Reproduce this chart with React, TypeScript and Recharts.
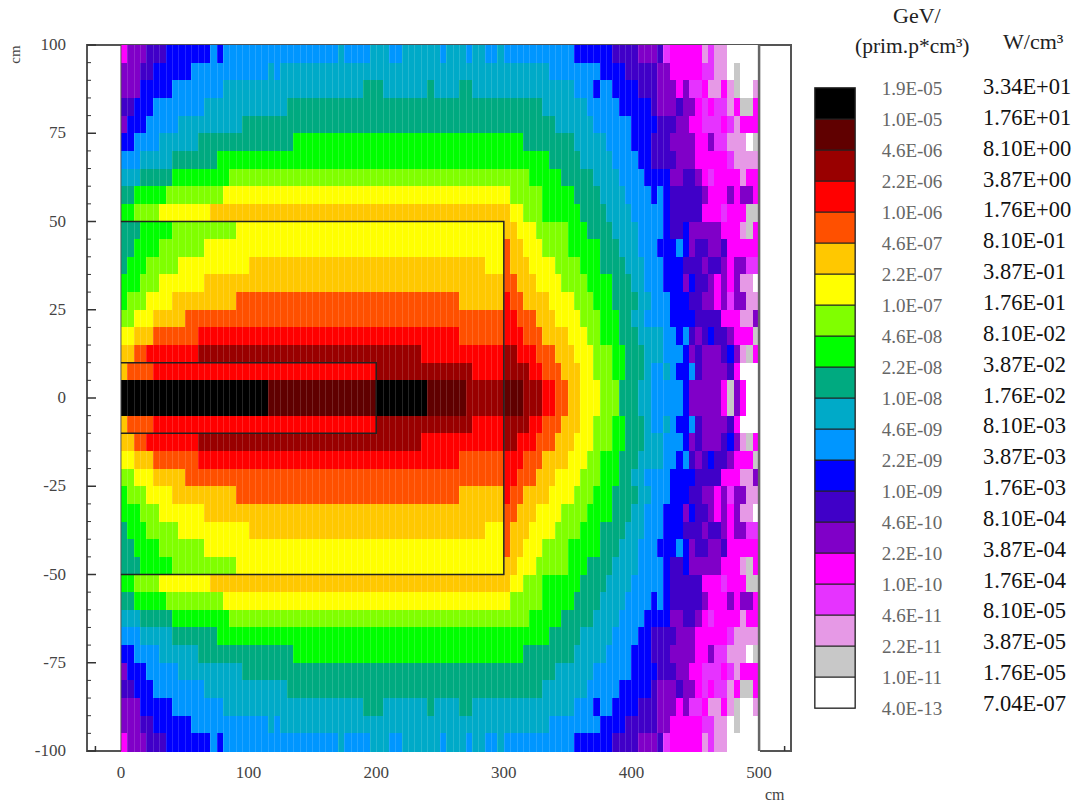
import React from "react"
import {
  ScatterChart, Scatter, XAxis, YAxis, ReferenceArea,
  BarChart, Bar,
} from "recharts"

// colour key, top of the scale first
const LEVEL_CODES = ["K", "D", "R", "r", "o", "a", "y", "l", "g", "t", "c", "s", "b", "i", "p", "m", "n", "k", "e", "w"]
const LEVEL_COLORS = [
  "#000000", "#600000", "#990000", "#ff0000", "#ff5000", "#ffc800", "#ffff00", "#80ff00", "#00ff00", "#00aa80",
  "#00aac8", "#0096ff", "#0000ff", "#4000c8", "#8000c8", "#ff00ff", "#e633ff", "#e699e6", "#c8c8c8", "#ffffff",
]
const GEV_LABELS = [
  "1.9E-05", "1.0E-05", "4.6E-06", "2.2E-06", "1.0E-06", "4.6E-07", "2.2E-07", "1.0E-07", "4.6E-08", "2.2E-08", "1.0E-08",
  "4.6E-09", "2.2E-09", "1.0E-09", "4.6E-10", "2.2E-10", "1.0E-10", "4.6E-11", "2.2E-11", "1.0E-11", "4.0E-13",
]
const WATT_LABELS = [
  "3.34E+01", "1.76E+01", "8.10E+00", "3.87E+00", "1.76E+00", "8.10E-01", "3.87E-01", "1.76E-01", "8.10E-02", "3.87E-02", "1.76E-02",
  "8.10E-03", "3.87E-03", "1.76E-03", "8.10E-04", "3.87E-04", "1.76E-04", "8.10E-05", "3.87E-05", "1.76E-05", "7.04E-07",
]

// upper half of the map, y = 100 downwards. each token is level code + column where the run ends (1 column = 5 cm)
const UPPER_ROWS = [
  "m1 p4 i7 b14 s15 b16 s34 c35 s39 c42 s44 c50 s51 c54 s55 c57 s59 c60 s71 b77 i81 p84 i85 n86 m91 k92 n93 k95 w100",
  "p3 i5 b11 s23 c24 s25 c67 s75 b79 i84 p86 m91 n93 k95 w96 e97 w100",
  "p3 b8 s16 c38 t41 c48 t49 c53 t55 c71 s74 b75 s77 b81 i84 p87 m88 p89 n91 m92 k94 m95 k96 e97 w99 k100",
  "i2 b5 s13 c26 t66 c73 s78 b83 i84 p87 i88 p90 m91 n92 m93 n95 k96 m97 e99 m100",
  "p1 b4 s9 c19 t68 c74 s80 b84 i87 p89 m91 n94 m95 n96 k97 m100",
  "b2 s6 c12 t27 g63 t71 c76 s80 b83 i86 p90 m92 p93 n95 k98 w99 e100",
  "s3 c8 t15 g67 t72 c77 s81 b83 i87 p90 m95 n96 k100",
  "c3 t8 g17 l64 g69 t74 c78 s82 b86 p88 i90 p91 m92 n93 m97 k98 m100",
  "t2 g7 l16 y61 l66 g71 t75 c79 s83 b84 s85 b86 i91 p92 m95 p96 m97 p99 m100",
  "g2 l6 y14 a61 y63 l66 g72 t76 c80 s85 b86 i91 m94 n95 m98 e100",
  "t3 g8 l18 y60 a62 y65 l70 g73 t77 c81 s85 b86 i88 b89 p94 m97 k98 e99 m100",
  "t2 g6 l13 y60 o61 a63 y66 l70 g75 t78 c81 s84 b87 s88 b89 p90 i92 p94 i95 m100",
  "t1 g4 l9 y20 a57 y60 o61 a64 y68 l72 g75 t79 c82 s85 b88 i91 p92 i94 p95 m96 p98 n100",
  "g3 l6 y13 a60 o62 a65 y69 l73 g77 t80 c82 s85 b88 p89 b90 i92 p93 m94 p95 m96 p97 k99 w100",
  "g1 l4 y8 a18 o53 a60 r61 o63 a67 y71 l74 g77 t81 c83 s86 b89 i91 p93 m94 p95 n96 p98 k100",
  "l2 y5 a10 o60 r62 o65 a68 y72 l75 g78 t80 c82 s86 b90 i94 m97 k99 p100",
  "y2 a5 o12 r53 o60 r63 o66 a70 y73 l75 g78 t81 c85 s87 b88 s89 i90 p91 i92 b93 i95 p96 m99 e100",
  "a2 o4 r12 R47 r60 R62 r65 o68 a71 y74 l77 g79 t82 c85 s88 b89 p90 i91 p94 i95 b96 p97 k98 e99 m100",
  "a1 o5 r40 R55 r60 R64 r66 o69 a72 y74 l77 g79 t82 c83 s85 c86 s87 b89 s90 i91 p95 i96 m97 w100",
  "K23 D40 K48 D54 R60 D63 R66 r68 o70 a72 y75 l78 t81 c83 s88 b89 p94 m95 e96 p97 m98 w100",
]

const X_TICKS = [-20, 0, 100, 200, 300, 400, 500, 520]
const Y_TICKS = [
  -100, -95, -90, -85, -80, -75, -70, -65, -60, -55, -50, -45, -40, -35, -30, -25, -20, -15, -10, -5, 0,
  5, 10, 15, 20, 25, 30, 35, 40, 45, 50, 55, 60, 65, 70, 75, 80, 85, 90, 95, 100,
]

// target and core outlines, plus the two histogram edges
const OUTER_OUTLINE = [{ x: 0, y: 50 }, { x: 300, y: 50 }, { x: 300, y: -50 }, { x: 0, y: -50 }]
const INNER_OUTLINE = [{ x: 0, y: 10 }, { x: 200, y: 10 }, { x: 200, y: -10 }, { x: 0, y: -10 }]
const LEFT_EDGE = [{ x: 0, y: 100 }, { x: 0, y: -100 }]
const RIGHT_EDGE = [{ x: 500, y: 100 }, { x: 500, y: -100 }]

const X_DOMAIN = [-26.6, 525]
const BIN_CM = 5
const LEFT = 87
const TOP = 45
const PLOT_W = 704
const PLOT_H = 706
const CELL_W = (PLOT_W / (X_DOMAIN[1] - X_DOMAIN[0])) * BIN_CM
const CELL_H = (PLOT_H / 200) * BIN_CM

const FONT = "'Liberation Serif', serif"
const TICK_COLOR = "#444"

// the map is mirror symmetric about y = 0
const allRows = [...UPPER_ROWS, ...[...UPPER_ROWS].reverse()]
const cells: { x: number; y: number; col: number; fill: string }[] = []
allRows.forEach((row, r) => {
  let col = 0
  row.split(" ").forEach((token) => {
    const end = Number(token.slice(1))
    const fill = LEVEL_COLORS[LEVEL_CODES.indexOf(token[0])]
    for (; col < end; col++) {
      cells.push({ x: (col + 0.5) * BIN_CM, y: 100 - (r + 0.5) * BIN_CM, col, fill })
    }
  })
})

function HeatCell(props: any) {
  const { cx, cy, payload } = props
  const left = cx - CELL_W / 2
  const top = cy - CELL_H / 2
  return (
    <g>
      <rect x={left} y={top} width={CELL_W + 0.5} height={CELL_H + 0.5} fill={payload.fill} shapeRendering="crispEdges" />
      {payload.col > 0 && payload.col < 86 && (
        <rect x={left} y={top} width={1} height={CELL_H + 0.5} fill="#fff" opacity={0.14} shapeRendering="crispEdges" />
      )}
    </g>
  )
}

const NoPoint = () => null

function XTick({ x, y, payload }: any) {
  if (payload.value === -20 || payload.value === 520) {
    return <line x1={x} x2={x} y1={y} y2={y - 5} stroke="#333" strokeWidth={1.5} />
  }
  return (
    <text x={x} y={y + 27} textAnchor="middle" fontFamily={FONT} fontSize={17} fill={TICK_COLOR}>
      {payload.value}
    </text>
  )
}

function YTick({ x, y, payload }: any) {
  const major = payload.value % 25 === 0
  return (
    <g>
      <line x1={x} x2={x + (major ? 9 : 4)} y1={y} y2={y} stroke="#333" strokeWidth={major ? 1.5 : 1} />
      {major && (
        <text x={x - 21} y={y + 5} textAnchor="end" fontFamily={FONT} fontSize={17} fill={TICK_COLOR}>
          {payload.value}
        </text>
      )}
    </g>
  )
}

// one tick of the colour scale carries both unit labels
function ScaleTick({ x, y, payload }: any) {
  const i = 20 - payload.value
  return (
    <g>
      <text x={x + 57} y={y + 7} textAnchor="middle" fontFamily={FONT} fontSize={19} fill="#666">
        {GEV_LABELS[i]}
      </text>
      <text x={x + 128} y={y + 6 - 0.15 * i} fontFamily={FONT} fontSize={22.5} fill="#111">
        {WATT_LABELS[i]}
      </text>
    </g>
  )
}

// stacked from the bottom, so white comes first
const scaleRow: Record<string, any> = { name: "scale" }
LEVEL_CODES.forEach((code) => {
  scaleRow[code] = 1
})
const scaleData = [scaleRow]
const scaleTicks = GEV_LABELS.map((_, i) => i)

const note = (left: number, top: number, size: number, color: string): React.CSSProperties => ({
  position: "absolute", left, top, fontFamily: FONT, fontSize: size, color, whiteSpace: "nowrap", lineHeight: 1,
})

export default function App() {
  return (
    <div style={{ position: "absolute", left: 0, top: 0, width: 1082, height: 808, background: "#fff", overflow: "hidden" }}>
      <div style={{ position: "absolute", left: 0, top: 0 }}>
        <ScatterChart
          width={1082}
          height={808}
          margin={{ top: TOP, left: LEFT - 1, right: 1082 - LEFT - PLOT_W, bottom: 808 - TOP - PLOT_H - 1 }}
        >
          <XAxis
            type="number"
            dataKey="x"
            domain={X_DOMAIN}
            ticks={X_TICKS}
            interval={0}
            allowDataOverflow
            height={1}
            tickSize={0}
            tickMargin={0}
            axisLine={false}
            tick={XTick}
          />
          <YAxis
            type="number"
            dataKey="y"
            domain={[-100, 100]}
            ticks={Y_TICKS}
            interval={0}
            width={1}
            tickSize={0}
            tickMargin={0}
            axisLine={false}
            tick={YTick}
          />
          <Scatter data={cells} isAnimationActive={false} shape={HeatCell} />
          <Scatter data={LEFT_EDGE} isAnimationActive={false} shape={NoPoint} line={{ stroke: "#555", strokeWidth: 1 }} />
          <Scatter data={RIGHT_EDGE} isAnimationActive={false} shape={NoPoint} line={{ stroke: "#666", strokeWidth: 2.5 }} />
          <Scatter data={OUTER_OUTLINE} isAnimationActive={false} shape={NoPoint} line={{ stroke: "#222", strokeWidth: 1.5 }} />
          <Scatter data={INNER_OUTLINE} isAnimationActive={false} shape={NoPoint} line={{ stroke: "#222", strokeWidth: 1.5 }} />
          <ReferenceArea x1={X_DOMAIN[0]} x2={X_DOMAIN[1]} y1={-100} y2={100} fill="none" stroke="#555" strokeWidth={2} fillOpacity={0} />
        </ScatterChart>
      </div>

      <div style={{ position: "absolute", left: 800, top: 58 }}>
        <BarChart
          width={282}
          height={670}
          data={scaleData}
          barCategoryGap={0}
          margin={{ top: 30, left: 15, right: 226, bottom: 20 }}
        >
          <XAxis dataKey="name" hide />
          <YAxis
            orientation="right"
            type="number"
            domain={[0, 20]}
            ticks={scaleTicks}
            interval={0}
            width={1}
            tickSize={0}
            tickMargin={0}
            axisLine={false}
            tick={ScaleTick}
          />
          {[...LEVEL_CODES].reverse().map((code) => (
            <Bar
              key={code}
              dataKey={code}
              stackId="scale"
              fill={LEVEL_COLORS[LEVEL_CODES.indexOf(code)]}
              stroke="#222"
              strokeWidth={1}
              isAnimationActive={false}
            />
          ))}
          <ReferenceArea y1={0} y2={20} fill="none" stroke="#666" strokeWidth={2} fillOpacity={0} />
        </BarChart>
      </div>

      <div style={note(893, 5, 22, "#222")}>GeV/</div>
      <div style={note(855, 36, 21.5, "#222")}>(prim.p*cm³)</div>
      <div style={note(1003, 31, 22, "#222")}>W/cm³</div>
      <div style={{ ...note(5, 47, 15, TICK_COLOR), transform: "rotate(-90deg)", transformOrigin: "center", width: 20, textAlign: "center" }}>cm</div>
      <div style={note(765, 787, 16, TICK_COLOR)}>cm</div>
    </div>
  )
}
